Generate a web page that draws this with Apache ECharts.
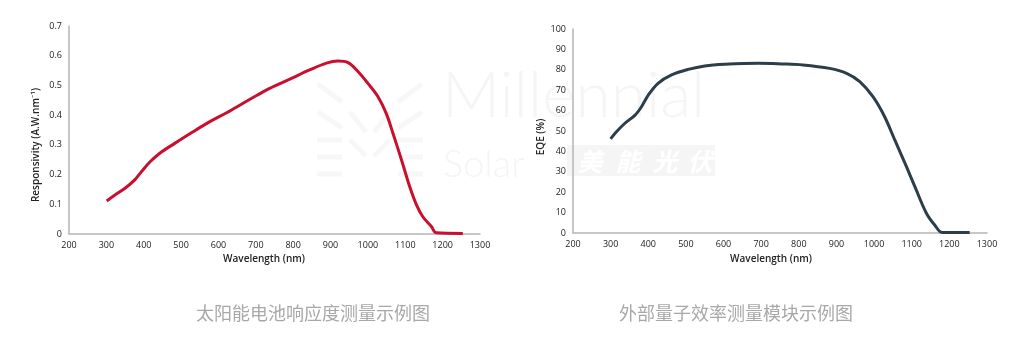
<!DOCTYPE html>
<html><head><meta charset="utf-8">
<script src="https://cdn.jsdelivr.net/npm/echarts@6/dist/echarts.min.js"></script>
<style>html,body{margin:0;padding:0;background:#fff}#c{width:1023px;height:353px}</style>
</head><body><div id="c"></div>
<script>
// Responsivity chart data (wavelength nm, A/W)
const respWavelength = [301,323,350,376,394,417,443,483,532,577,622,666,702,737,791,844,889,920,947,974,1000,1027,1049,1067,1090,1112,1130,1147,1170,1183,1254];
const respValues =     [0.111,0.131,0.154,0.182,0.21,0.243,0.272,0.305,0.344,0.378,0.408,0.44,0.466,0.49,0.521,0.552,0.575,0.582,0.577,0.546,0.507,0.462,0.406,0.339,0.249,0.159,0.098,0.058,0.025,0.004,0.002];
// EQE chart data (wavelength nm, %)
const eqeWavelength = [300,316,338,365,382,400,426,462,506,550,604,692,754,811,882,927,962,997,1028,1055,1086,1112,1139,1161,1181,1254];
const eqeValues =     [46.1,49.7,53.8,57.8,61.9,67.6,73.4,77.5,80.2,81.9,82.7,83.2,82.9,82.4,80.7,78.3,74.2,66.8,57,45.6,32.5,21.1,9.7,3.9,0.3,0.2];
// Axis ticks / labels
const xTicks = {min:200, max:1300, interval:100};
const respTicks = {min:0, max:0.7, interval:0.1};
const eqeTicks = {min:0, max:100, interval:10};
const xName = 'Wavelength (nm)';
const respName = 'Responsivity (A.W.nm\u207B\u00B9)';
const eqeName = 'EQE (%)';
const captions = ['太阳能电池响应度测量示例图', '外部量子效率测量模块示例图'];
const watermark = ['Millennial', 'Solar', '美', '能', '光', '伏'];

const font = '"Open Sans", Lato, sans-serif';
const cjk = '"Noto Sans CJK SC", sans-serif';
const chart = echarts.init(document.getElementById('c'));
function xAxis(gi){
  return {type:'value', gridIndex:gi, min:xTicks.min, max:xTicks.max, interval:xTicks.interval,
    axisLine:{show:true, lineStyle:{color:'#b5b5b5', width:1.5}}, axisTick:{show:false},
    splitLine:{show:false},
    axisLabel:{fontFamily:font, fontSize:9, color:'#222', margin:7, formatter:v => v + ''}};
}
function yAxis(gi, t, fmt){
  return {type:'value', gridIndex:gi, min:t.min, max:t.max, interval:t.interval,
    axisLine:{show:true, lineStyle:{color:'#b5b5b5', width:1.5}}, axisTick:{show:false},
    splitLine:{show:false},
    axisLabel:{fontFamily:font, fontSize:9, color:'#222', margin:7, formatter:fmt}};
}
const wm = '#f5f5f5';
function bar(x1,y1,x2,y2){ return {type:'line', z:-1, shape:{x1,y1,x2,y2}, style:{stroke:'#f7f7f7', lineWidth:5}}; }
const nameStyle = {fontFamily:font, fontSize:10, fontWeight:600, fill:'#222', align:'center', verticalAlign:'middle'};
const option = {
  animation:false,
  grid:[
    {left:69, top:26, width:411, height:208},
    {left:573, top:29, width:414, height:204}
  ],
  xAxis:[xAxis(0), xAxis(1)],
  yAxis:[
    yAxis(0, respTicks, v => +v.toFixed(1) + ''),
    yAxis(1, eqeTicks, v => v + '')
  ],
  graphic:[
    // faint watermark
    bar(317,140,342,140), bar(317,157,342,157), bar(317,174,342,174),
    bar(398,140,423,140), bar(398,157,423,157), bar(398,174,423,174),
    bar(318,84,342,102), bar(318,112,342,128),
    bar(422,84,398,102), bar(422,112,398,128),
    bar(350,112,366,132), bar(350,140,366,156),
    bar(390,112,374,132), bar(390,140,374,156),
    {type:'text', z:-1, style:{text:watermark[0], x:442, y:128, verticalAlign:'bottom', fontFamily:'Lato, sans-serif', fontSize:64, fontWeight:300, fill:wm}},
    {type:'text', z:-1, style:{text:watermark[1], x:443, y:184, verticalAlign:'bottom', fontFamily:'Lato, sans-serif', fontSize:38, fontWeight:300, fill:wm}},
    {type:'rect', z:-1, shape:{x:567, y:145, width:148, height:31}, style:{fill:'#f5f5f5'}},
    {type:'text', z:-1, style:{text:watermark[2], x:590, y:161, align:'center', verticalAlign:'middle', fontFamily:cjk, fontSize:25, fontStyle:'italic', fontWeight:'bold', fill:'#ffffff'}},
    {type:'text', z:-1, style:{text:watermark[3], x:628, y:161, align:'center', verticalAlign:'middle', fontFamily:cjk, fontSize:25, fontStyle:'italic', fontWeight:'bold', fill:'#ffffff'}},
    {type:'text', z:-1, style:{text:watermark[4], x:665, y:161, align:'center', verticalAlign:'middle', fontFamily:cjk, fontSize:25, fontStyle:'italic', fontWeight:'bold', fill:'#ffffff'}},
    {type:'text', z:-1, style:{text:watermark[5], x:700, y:161, align:'center', verticalAlign:'middle', fontFamily:cjk, fontSize:25, fontStyle:'italic', fontWeight:'bold', fill:'#ffffff'}},
    // axis names
    {type:'text', z:5, style:Object.assign({text:xName, x:264, y:259}, nameStyle)},
    {type:'text', z:5, style:Object.assign({text:xName, x:771, y:259}, nameStyle)},
    {type:'text', z:5, x:36, y:145, rotation:Math.PI/2, style:Object.assign({text:respName, x:0, y:0}, nameStyle)},
    {type:'text', z:5, x:541, y:137, rotation:Math.PI/2, style:Object.assign({text:eqeName, x:0, y:0}, nameStyle)},
    // captions
    {type:'text', z:5, style:{text:captions[0], x:313, y:313, align:'center', verticalAlign:'middle', fontFamily:cjk, fontSize:18, fill:'#a8a8a8'}},
    {type:'text', z:5, style:{text:captions[1], x:736, y:313, align:'center', verticalAlign:'middle', fontFamily:cjk, fontSize:18, fill:'#a8a8a8'}}
  ],
  series:[
    {type:'line', xAxisIndex:0, yAxisIndex:0, showSymbol:false, smooth:0.35,
     lineStyle:{color:'#c8102e', width:3}, data:respWavelength.map((w,i)=>[w,respValues[i]])},
    {type:'line', xAxisIndex:1, yAxisIndex:1, showSymbol:false, smooth:0.35,
     lineStyle:{color:'#2c3e4a', width:3}, data:eqeWavelength.map((w,i)=>[w,eqeValues[i]])}
  ]
};
chart.setOption(option);
</script></body></html>
